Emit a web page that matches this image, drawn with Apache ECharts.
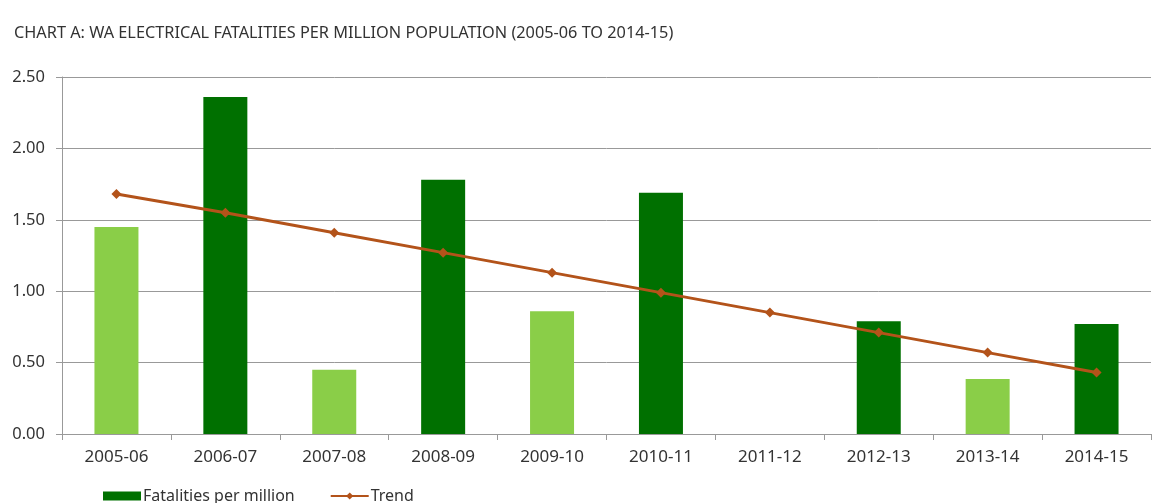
<!DOCTYPE html>
<html>
<head>
<meta charset="utf-8">
<script src="https://cdn.jsdelivr.net/npm/echarts@6/dist/echarts.min.js"></script>
<style>html,body{margin:0;padding:0;background:#fff}#c{width:1157px;height:503px}</style>
</head>
<body>
<div id="c"></div>
<script>
const titleText = 'CHART A: WA ELECTRICAL FATALITIES PER MILLION POPULATION (2005-06 TO 2014-15)';
const categories = ['2005-06','2006-07','2007-08','2008-09','2009-10','2010-11','2011-12','2012-13','2013-14','2014-15'];
const fatalities = [1.45, 2.36, 0.45, 1.78, 0.86, 1.69, 0, 0.79, 0.385, 0.77];
const trend = [1.68, 1.55, 1.41, 1.27, 1.13, 0.99, 0.85, 0.71, 0.57, 0.43];
const barShade = ['light','dark','light','dark','light','dark','dark','dark','light','dark'];
const yTicks = [0, 0.5, 1, 1.5, 2, 2.5];

const LIGHT = '#8ace48', DARK = '#007000', LINE = '#b3531a';
const FONT = 'Noto Sans, sans-serif';

const chart = echarts.init(document.getElementById('c'), null, {renderer:'canvas'});
chart.setOption({
  animation: false,
  backgroundColor: '#fff',
  title: {
    text: titleText, left: 9, top: 20,
    textStyle: {fontFamily: FONT, fontSize: 16.3, fontWeight: 'normal', color: '#333'}
  },
  grid: {left: 62, right: 6, top: 77, bottom: 69, containLabel: false},
  legend: {
    bottom: -6, left: 98, itemWidth: 38, itemHeight: 9, itemGap: 35,
    textStyle: {fontFamily: FONT, fontSize: 16, color: '#333', padding: [0,0,0,-3]},
    data: [
      {name: 'Fatalities per million', icon: 'rect', itemStyle: {color: DARK}},
      {name: 'Trend'}
    ]
  },
  xAxis: {
    type: 'category', data: categories,
    axisLine: {lineStyle: {color: '#999'}},
    axisTick: {show: true, length: 6, lineStyle: {color: '#999'}},
    axisLabel: {fontFamily: FONT, fontSize: 17, color: '#333', margin: 15}
  },
  yAxis: {
    type: 'value', min: 0, max: 2.5, interval: 0.5,
    axisLine: {show: true, lineStyle: {color: '#999'}},
    axisTick: {show: true, length: 6, lineStyle: {color: '#999'}},
    axisLabel: {fontFamily: FONT, fontSize: 16.5, color: '#333', margin: 17,
      formatter: v => yTicks.includes(v) ? v.toFixed(2) : ''},
    splitLine: {lineStyle: {color: '#999'}}
  },
  series: [
    {
      name: 'Fatalities per million', type: 'bar', barWidth: 44,
      data: fatalities.map((v,i) => ({value: v, itemStyle: {color: barShade[i]==='light' ? LIGHT : DARK}})),
      itemStyle: {color: DARK}
    },
    {
      name: 'Trend', type: 'line', data: trend,
      symbol: 'diamond', symbolSize: 10,
      lineStyle: {color: LINE, width: 3},
      itemStyle: {color: LINE}
    }
  ]
});
</script>
</body>
</html>
